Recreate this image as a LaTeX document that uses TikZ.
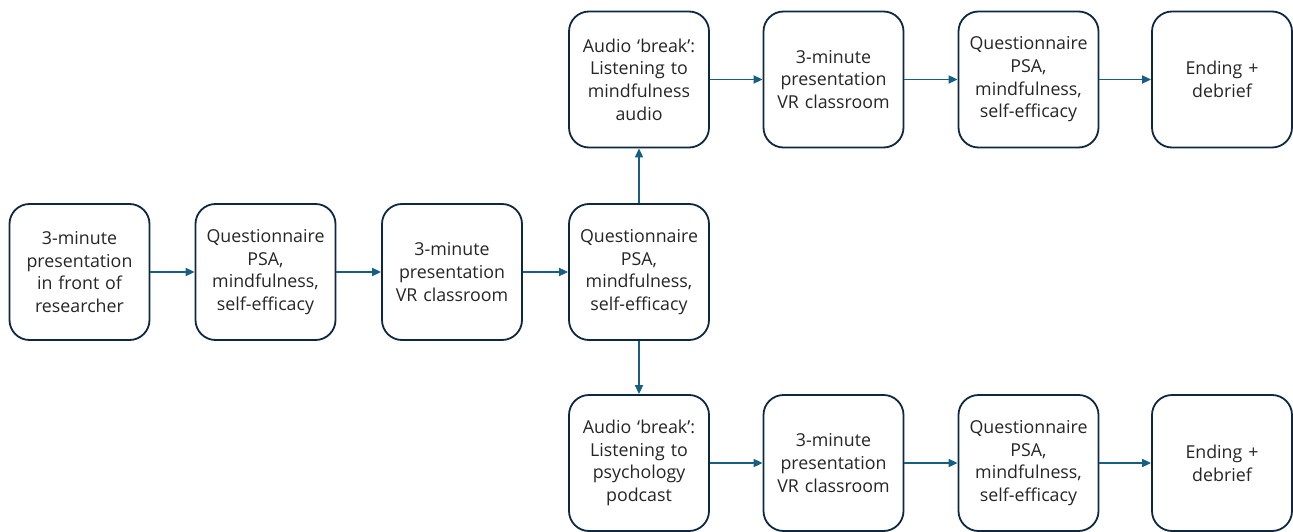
\documentclass[tikz,border=0pt]{standalone}
\usepackage{fontspec}
\setmainfont{Open Sans}
\usepackage{xcolor}
\usetikzlibrary{arrows.meta}
\definecolor{C0E2841}{HTML}{0E2841}
\definecolor{C156082}{HTML}{156082}
\definecolor{C262626}{HTML}{262626}

\tikzset{
  stepbox/.style={minimum height=136pt, minimum width=140pt, draw=C0E2841, fill=white, line width=1.8pt, rounded corners=20pt, align=center, text width=134pt, text=C262626, font=\fontsize{17.8}{22.7}\selectfont, shape=rectangle},
  link/.style={-{Triangle[length=9pt,width=8pt]}, line width=1.7pt, draw=C156082}
}

\begin{document}
\begin{tikzpicture}[inner sep=0pt]
\useasboundingbox (0pt,0pt) rectangle (1293pt,-532pt);
\node (n0) [stepbox, at={(79.5pt,-272pt)}] {3-minute\\presentation\\in front of\\researcher};
\node (n1) [stepbox, at={(265.5pt,-272pt)}] {Questionnaire\\PSA,\\mindfulness,\\self-efficacy};
\node (n2) [stepbox, at={(452pt,-272pt)}] {3-minute\\presentation\\VR classroom};
\node (n3) [stepbox, at={(639pt,-272pt)}] {Questionnaire\\PSA,\\mindfulness,\\self-efficacy};
% upper branch
\node (t0) [stepbox, at={(639pt,-79.5pt)}] {Audio ‘break’:\\Listening to\\mindfulness\\audio};
\node (t1) [stepbox, at={(833.5pt,-79.5pt)}] {3-minute\\presentation\\VR classroom};
\node (t2) [stepbox, at={(1028.5pt,-79.5pt)}] {Questionnaire\\PSA,\\mindfulness,\\self-efficacy};
\node (t3) [stepbox, at={(1222pt,-79.5pt)}] {Ending +\\debrief};
% lower branch
\node (b0) [stepbox, at={(639pt,-463pt)}] {Audio ‘break’:\\Listening to\\psychology\\podcast};
\node (b1) [stepbox, at={(833.5pt,-463pt)}] {3-minute\\presentation\\VR classroom};
\node (b2) [stepbox, at={(1028.5pt,-463pt)}] {Questionnaire\\PSA,\\mindfulness,\\self-efficacy};
\node (b3) [stepbox, at={(1222pt,-463pt)}] {Ending +\\debrief};
\path [link](n0)--(n1);
\path [link](n1)--(n2);
\path [link](n2)--(n3);
\path [link](n3)--(t0);
\path [link](n3)--(b0);
\path [link](t0)--(t1);
\path [link](t1)--(t2);
\path [link](t2)--(t3);
\path [link](b0)--(b1);
\path [link](b1)--(b2);
\path [link](b2)--(b3);
\end{tikzpicture}
\end{document}
